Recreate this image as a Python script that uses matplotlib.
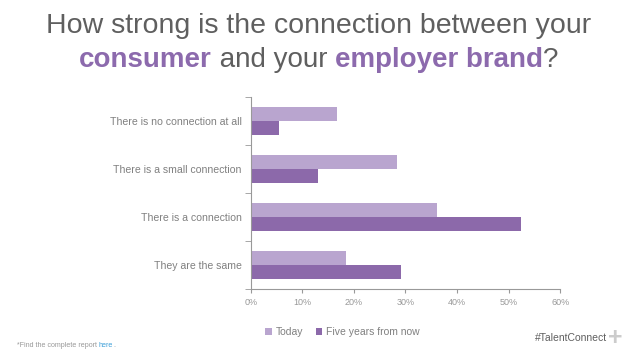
import numpy as np
import matplotlib.pyplot as plt
from matplotlib.ticker import FixedLocator, PercentFormatter

plt.rcParams['font.family'] = ['Liberation Sans', 'DejaVu Sans']

categories = ["There is no connection at all", "There is a small connection",
              "There is a connection", "They are the same"]
today = [16.8, 28.4, 36.1, 18.5]
five_years = [5.4, 13.1, 52.4, 29.1]
series_names = ["Today", "Five years from now"]

c_today = "#b9a5cf"
c_five = "#8c69aa"
grey = "#5f5f5f"
lgrey = "#808080"
purple = "#8c6aad"

fig = plt.figure(figsize=(6.38, 3.59), dpi=100)
ax = fig.add_axes([0.393, 0.195, 0.485, 0.535])

y = np.arange(len(categories))
h = 0.285
ax.barh(y - h / 2, today, height=h, color=c_today, label=series_names[0])
ax.barh(y + h / 2, five_years, height=h, color=c_five, label=series_names[1])

ax.set_ylim(len(categories) - 0.5, -0.5)
ax.set_xlim(0, 60)
ax.set_yticks(y)
ax.set_yticklabels(categories, fontsize=7.6, color=lgrey)
ax.yaxis.set_minor_locator(FixedLocator(np.arange(-0.5, len(categories), 1)))
ax.tick_params(axis='y', which='major', length=0, pad=6.5)
ax.tick_params(axis='y', which='minor', length=4, color="#999999")
ax.set_xticks(np.arange(0, 61, 10))
ax.xaxis.set_major_formatter(PercentFormatter(decimals=0))
ax.tick_params(axis='x', labelsize=6.5, labelcolor="#999999", length=3, color="#999999")
for s in ['top', 'right']:
    ax.spines[s].set_visible(False)
for s in ['left', 'bottom']:
    ax.spines[s].set_color("#999999")
    ax.spines[s].set_linewidth(0.8)

ax.legend(loc='upper center', bbox_to_anchor=(0.297, -0.15), ncol=2, frameon=False,
          fontsize=7.5, labelcolor=lgrey, handlelength=0.6, handleheight=0.6,
          columnspacing=1.2, handletextpad=0.4)

# title
fig.text(0.5, 0.927, "How strong is the connection between your", ha='center', va='center',
         fontsize=20.5, color=grey)
parts = [("consumer", purple, 'bold'), (" and your ", grey, 'normal'),
         ("employer brand", purple, 'bold'), ("?", grey, 'normal')]
fig.canvas.draw()
r = fig.canvas.get_renderer()
texts = []
prev = None
for s, c, w in parts:
    if prev is None:
        t = fig.text(0.0, 0.832, s, ha='left', va='center', fontsize=20, color=c, fontweight=w)
    else:
        t = ax.annotate(s, xy=(1, 0), xycoords=prev, ha='left', va='bottom',
                        fontsize=20, color=c, fontweight=w, annotation_clip=False)
    texts.append(t)
    prev = t
fig.canvas.draw()
x0 = texts[0].get_window_extent(r).x0
x1 = texts[-1].get_window_extent(r).x1
width = (x1 - x0) / fig.bbox.width
texts[0].set_x(0.5 - width / 2)

# footnote
fn = fig.text(0.026, 0.037, "*Find the complete report ", fontsize=5.1, color="#999999", va='center')
fn2 = ax.annotate("here", xy=(1, 0), xycoords=fn, ha='left', va='bottom',
                  fontsize=5.1, color="#3a9ed8", annotation_clip=False)
ax.annotate(".", xy=(1, 0), xycoords=fn2, ha='left', va='bottom',
            fontsize=5.1, color="#999999", annotation_clip=False)

fig.text(0.838, 0.058, "#TalentConnect", fontsize=7.5, color=grey, va='center')
fig.text(0.964, 0.058, "+", fontsize=18, color="#cccccc", va='center', ha='center', fontweight='bold')

fig.savefig("out.png", dpi=100)
